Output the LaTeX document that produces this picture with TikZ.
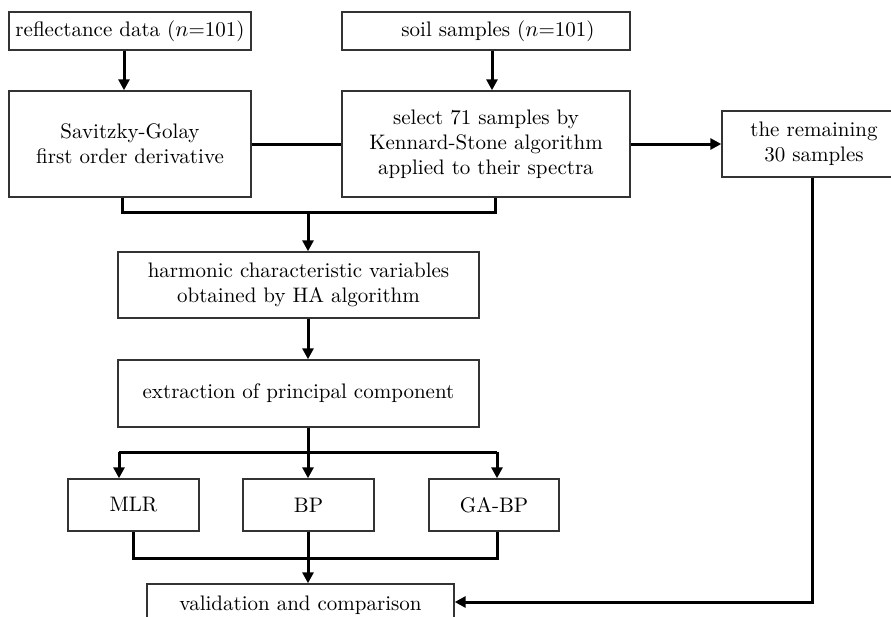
\documentclass[tikz,border=0pt]{standalone}
\usetikzlibrary{arrows.meta,calc}
\begin{document}
\begin{tikzpicture}[x=0.5pt,y=-0.5pt,
  box/.style={draw=black!80,line width=0.7pt,inner sep=0pt,align=center,anchor=center,font=\fontsize{10.5}{12.5}\selectfont},
  conn/.style={line width=1.5pt,black},
  arr/.style={conn,-{Triangle[length=5.5pt,width=5.5pt]}}]
\useasboundingbox (0,0) rectangle (891,617);
\node[box,minimum width=121pt,minimum height=19pt] (refl) at (130,31) {reflectance data ($n$=101)};
\node[box,minimum width=144pt,minimum height=19pt] (soil) at (486,31) {\hspace{12pt}soil samples ($n$=101)};
\node[box,minimum width=121pt,minimum height=53pt] (sg) at (130,144) {Savitzky-Golay\\first order derivative};
\node[box,minimum width=144pt,minimum height=53pt] (sel) at (486,144) {select 71 samples by\\Kennard-Stone algorithm\\applied to their spectra};
\node[box,minimum width=92pt,minimum height=33pt] (rem) at (814,144) {the remaining\\30 samples};
\node[box,minimum width=180.5pt,minimum height=33pt] (harm) at (298.5,285) {harmonic characteristic variables\\obtained by HA algorithm};
\node[box,minimum width=180.5pt,minimum height=33.5pt] (ext) at (298.5,393.5) {extraction of principal component};
\node[box,minimum width=65.5pt,minimum height=26pt] (mlr) at (133.5,505) {MLR};
\node[box,minimum width=65.5pt,minimum height=26pt] (bp) at (308.5,505) {BP};
\node[box,minimum width=65pt,minimum height=26pt] (gabp) at (494,505) {GA-BP};
\node[box,minimum width=153.5pt,minimum height=21pt] (val) at (300.5,605) {validation and comparison};
% top arrows
\draw[arr] ([xshift=-3pt]refl.south) -- ([xshift=-3pt]sg.north);
\draw[arr] ([xshift=3pt]soil.south) -- ([xshift=3pt]sel.north);
\draw[conn] (sg.east) -- (sel.west);
\draw[arr] (sel.east) -- (sel.east -| rem.west);
% first bus
\coordinate (bus1) at (308,212);
\draw[conn] ([xshift=-4pt]sg.south) |- (bus1) -| ([xshift=4.5pt]sel.south);
\draw[arr] (bus1) -- (bus1 |- harm.north);
\draw[arr] (bus1 |- harm.south) -- (bus1 |- ext.north);
% second bus
\coordinate (bus2) at (308,452);
\coordinate (m1) at (119,452);
\coordinate (m3) at (497,452);
\draw[conn] (bus2 |- ext.south) -- (bus2);
\draw[conn] (m1) -- (m3);
\draw[arr] (m1) -- (m1 |- mlr.north);
\draw[arr] (bus2) -- (bus2 |- bp.north);
\draw[arr] (m3) -- (m3 |- gabp.north);
% third bus
\coordinate (bus3) at (308,558);
\draw[conn] (mlr.south) |- (bus3) -| (m3 |- gabp.south);
\draw[conn] (bus3 |- bp.south) -- (bus3);
\draw[arr] (bus3) -- (bus3 |- val.north);
% return
\coordinate (r1) at (812,602);
\draw[arr] (r1 |- rem.south) -- (r1) -- (r1 -| val.east);
\end{tikzpicture}
\end{document}
